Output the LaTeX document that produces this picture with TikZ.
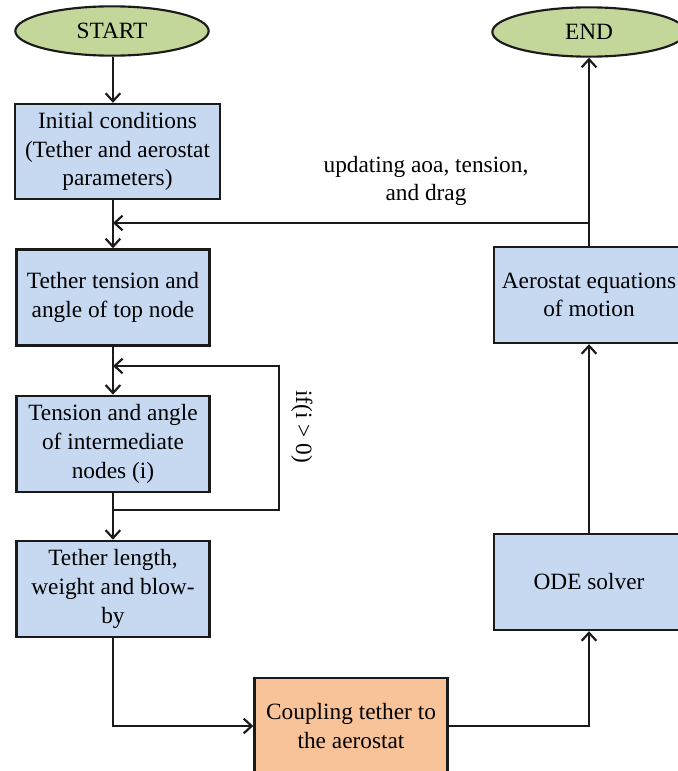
\documentclass[tikz,border=0pt]{standalone}
\usepackage{fontspec}
\setmainfont{Liberation Serif}
\usetikzlibrary{arrows.meta,positioning,shapes.geometric}
\definecolor{termgreen}{HTML}{C4D79B}
\definecolor{boxblue}{HTML}{C6D9F1}
\definecolor{boxorange}{HTML}{F9C39A}
\definecolor{edge}{HTML}{1A1A1A}
\tikzset{%
	terminal/.style = {draw=edge, line width=1.6pt, ellipse, fill=termgreen, minimum width=145pt, minimum height=37pt, inner sep=0pt}, % Start / end
	process/.style  = {draw=edge, line width=1.8pt, rectangle, fill=boxblue, minimum width=144.75pt, minimum height=72pt, align=center, inner sep=2pt},
	coupling/.style = {process, fill=boxorange},
	arrow/.style    = {draw=edge, line width=1.6pt, -{Straight Barb[length=6pt,width=11pt,line width=1.6pt]}},
}

\begin{document}
\begin{tikzpicture}[x=0.75pt,y=-0.75pt,font=\fontsize{17.5}{21.5}\selectfont]
	\useasboundingbox (0,0) rectangle (678,771);
	\clip (0,0) rectangle (678,771);
	% left column
	\node [terminal] (start) at (112,31) {START};
	\node [process, minimum width=153.75pt, minimum height=71.25pt] (init) at (117.5,151.5) {Initial conditions\\(Tether and aerostat\\parameters)};
	\node [process] (tens) [below=36pt of init, xshift=-3.4pt] {Tether tension and\\angle of top node};
	\node [process] (inter) [below=36pt of tens] {Tension and angle\\of intermediate\\nodes (i)};
	\node [process] (tlen) [below=35pt of inter] {Tether length,\\weight and blow-\\by};
	% bottom and right column
	\node [coupling] (coup) at (351,726) {Coupling tether to\\the aerostat};
	\node [process, minimum width=142.5pt] (ode) at (589,582) {ODE solver};
	\node [process, minimum width=142.5pt] (aero) at (589,295) {Aerostat equations\\of motion};
	\node [terminal] (ende) at (589,32) {END};
	\coordinate (fb) at (589,223);
	\coordinate (lptop) at (113,366);
	\coordinate (lpbot) at (113,510);
	\coordinate (lpr) at (279,510);
	
	\draw[arrow] (start.south -| tens.north) -- (tens.north |- init.north);
	\draw[arrow] (tens.north |- init.south) -- (tens.north);
	\draw[arrow] (tens) -- (inter);
	\draw[arrow] (inter) -- (tlen);
	\draw[arrow] (lpbot) -- (lpr) |- node[pos=0.29, right=5pt, rotate=-90, anchor=south] {if(i > 0)} (lptop);
	\draw[arrow] (tlen.south) |- (coup.west);
	\draw[arrow] (coup.east) -| (ode.south);
	\draw[arrow] (ode) -- (aero);
	\draw[arrow] (aero.north) -- (ende.south);
	\draw[arrow] (fb) -- (tens.north |- fb);
	\node [align=center] (upd) at (426,181) {updating aoa, tension,\\and drag};
\end{tikzpicture}
\end{document}
